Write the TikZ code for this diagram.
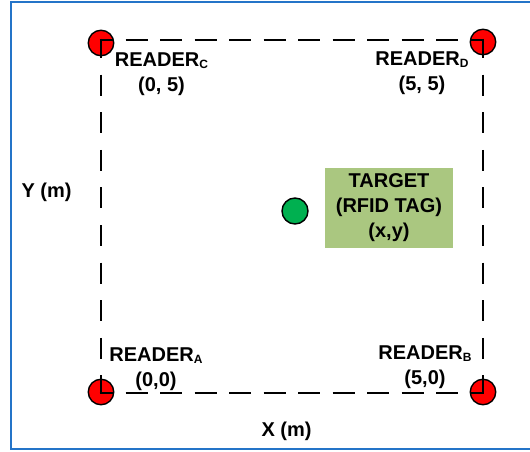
\documentclass[tikz,border=0pt]{standalone}
\usepackage{fontspec}
\setmainfont{Liberation Sans}
\definecolor{frameblue}{RGB}{36,116,200}
\definecolor{readerred}{RGB}{255,0,0}
\definecolor{taggreen}{RGB}{0,176,80}
\definecolor{boxgreen}{RGB}{170,199,128}
\newcommand\subl[1]{\raisebox{-1.8pt}{\fontsize{12}{12}\selectfont #1}}
\begin{document}
\begin{tikzpicture}[x=1pt,y=-1pt,
  lbl/.style={font=\fontsize{20}{25}\selectfont\bfseries, inner sep=0pt, align=center},
  reader/.style={circle, draw=black, line width=1.4pt, fill=readerred, minimum size=25.5pt, inner sep=0pt},
  tagdot/.style={circle, draw=black, line width=1.4pt, fill=taggreen, minimum size=26pt, inner sep=0pt},
  hside/.style={line width=2.8pt, dash pattern=on 22pt off 12.5pt, dash phase=8.6pt, shorten <=-1.4pt, shorten >=-1.4pt},
  vside/.style={line width=2.8pt, dash pattern=on 21pt off 16.6pt, dash phase=1.6pt, shorten <=-1.4pt, shorten >=-1.4pt}]
\useasboundingbox (0,0) rectangle (530,452);
% outer frame
\draw[frameblue, line width=2.2pt] (540,1.7) -- (11,1.7) -- (11,449.3) -- (540,449.3);
% readers
\node[reader] (ra) at (101,392) {};
\node[reader] (rb) at (483,392) {};
\node[reader] (rc) at (101,43) {};
\node[reader] (rd) at (483,42) {};
% dashed area
\coordinate (cTL) at (101,40);
\coordinate (cTR) at (483,40);
\coordinate (cBL) at (101,393);
\coordinate (cBR) at (483,393);
\draw[hside] (cTL) -- (cTR);
\draw[hside] (cBL) -- (cBR);
\draw[vside] (cTL) -- (cBL);
\draw[vside] (cTR) -- (cBR);
% labels
\node[lbl] (lc) at (161.5,74.2) {READER\subl{C}\\(0, 5)};
\node[lbl] (ld) at (422,73.3) {READER\subl{D}\\(5, 5)};
\node[lbl] (la) at (156,369.2) {READER\subl{A}\\(0,0)};
\node[lbl] (lb) at (425,367.2) {READER\subl{B}\\(5,0)};
\node[lbl, anchor=base] (ym) at (46.5,197.3) {Y (m)};
\node[lbl, anchor=base] (xm) at (286.5,436.7) {X (m)};
% target
\node[tagdot] (tag) at (295,211) {};
\node[lbl, fill=boxgreen, minimum width=128pt, minimum height=80pt] (box) at (389,208) {TARGET\\(RFID TAG)\\(x,y)};
\end{tikzpicture}
\end{document}
